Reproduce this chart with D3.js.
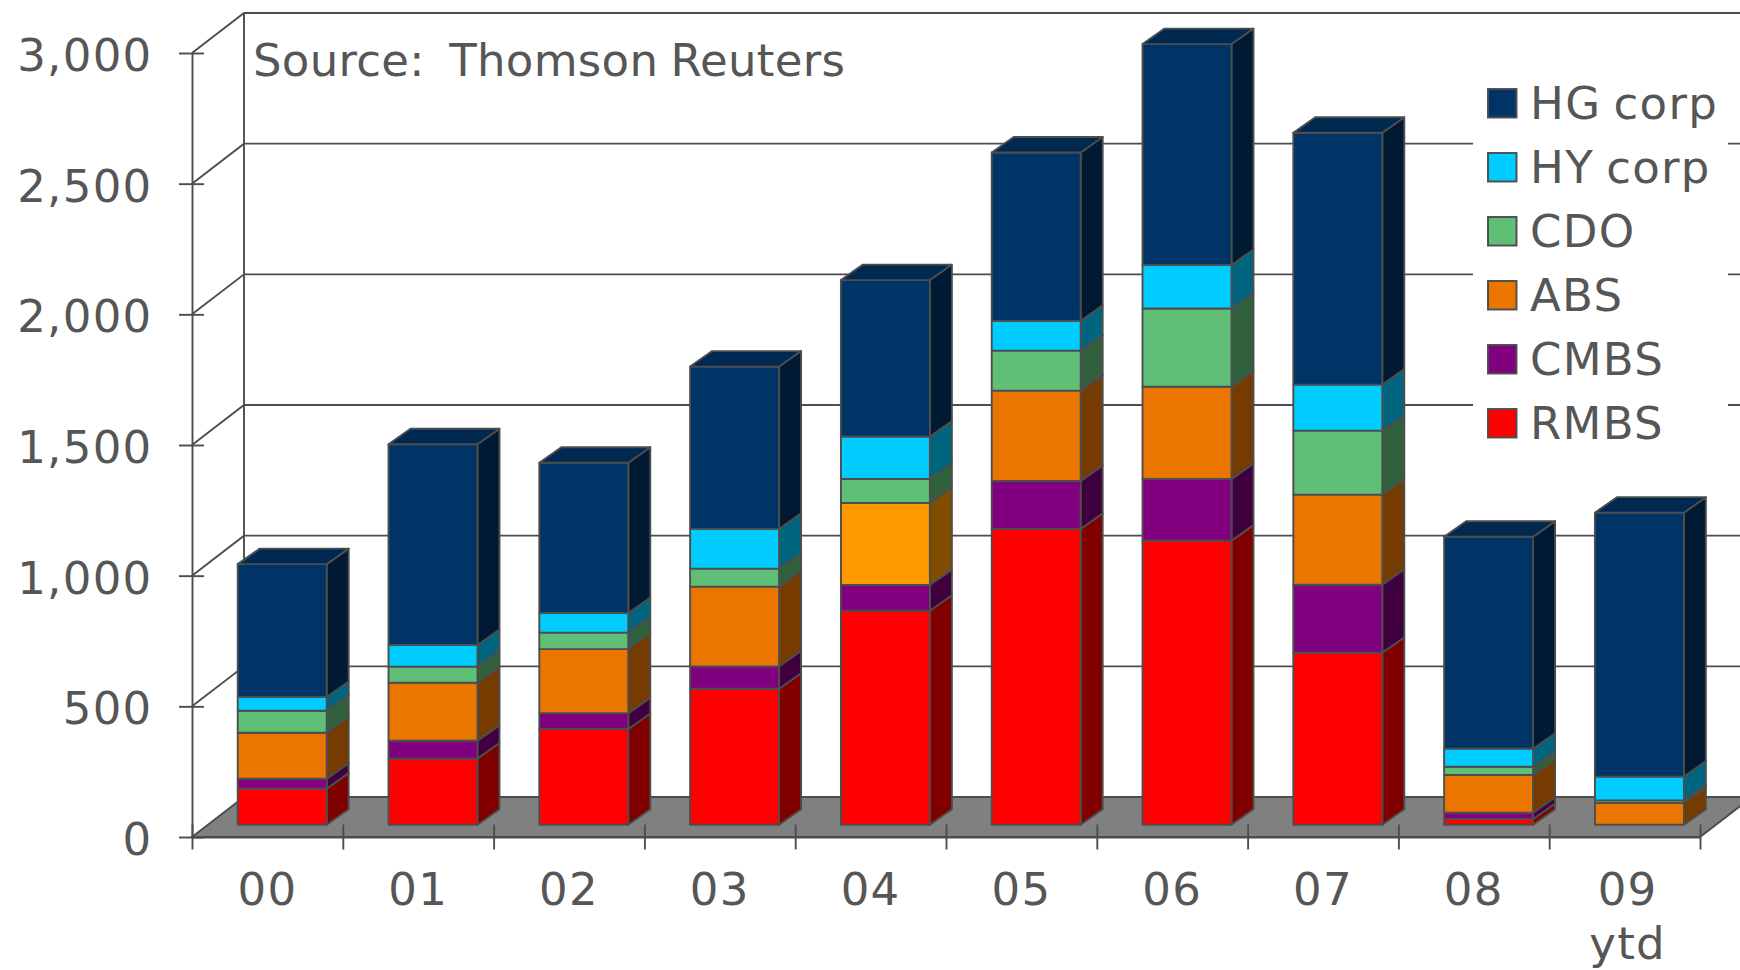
<!DOCTYPE html>
<html>
<head>
<meta charset="utf-8">
<script src="https://cdn.jsdelivr.net/npm/d3@7"></script>
<style>
  html, body { margin: 0; padding: 0; background: #fff; overflow: hidden; }
  text { font-family: "DejaVu Sans", sans-serif; fill: #565656; white-space: pre; letter-spacing: 1.3px; word-spacing: -3.4px; }
</style>
</head>
<body>
<div id="chart"></div>
<script>
var width = 1740;
var height = 970;

// issuance by year
const years = ["00", "01", "02", "03", "04", "05", "06", "07", "08", "09"];
const rmbs = [138, 253, 366, 520, 819, 1132, 1087, 658, 22, 0];
const cmbs = [38, 68, 61, 86, 98, 183, 236, 260, 24, 0];
const abs = [176, 222, 245, 305, 314, 346, 353, 345, 144, 83];
const cdo = [84, 62, 63, 69, 92, 153, 299, 245, 32, 10];
const hyCorp = [53, 83, 75, 152, 162, 114, 167, 176, 69, 91];
const hgCorp = [508, 768, 575, 621, 599, 644, 845, 964, 811, 1010];

const seriesNames = ["RMBS", "CMBS", "ABS", "CDO", "HY corp", "HG corp"];
const seriesValues = [rmbs, cmbs, abs, cdo, hyCorp, hgCorp];
const seriesColors = ["#ff0000", "#800080", "#ea7600", "#5fbf77", "#00ccff", "#003366"];
const yTicks = [0, 500, 1000, 1500, 2000, 2500, 3000];

const ink = "#4d4d4d";
const floorColor = "#808080";
const lineW = 1.9;

// 3d box: wall depth, and where the bars sit inside it
const wall = { dx: 52, dy: 40 };
const bar = { shiftX: 14.8, shiftY: 12.3, dx: 22, dy: 15.5 };

var x = d3.scaleBand().domain(years).range([192, 1700]);
var xEdge = d3.scaleLinear().domain([0, years.length]).range([192, 1700]);
var y = d3.scaleLinear().domain([0, 3000]).range([837, 53]);

var rows = years.map((yr, i) => {
  var row = { year: yr };
  seriesNames.forEach((s, j) => (row[s] = seriesValues[j][i]));
  return row;
});
var stacked = d3.stack().keys(seriesNames)(rows);

const svg = d3
  .select("#chart")
  .append("svg")
  .attr("width", width)
  .attr("height", height)
  .style("display", "block");

// floor
svg
  .append("path")
  .attr("fill", floorColor)
  .attr("stroke", ink)
  .attr("stroke-width", lineW)
  .attr(
    "d",
    d3.line()([
      [xEdge(0), y(0)],
      [xEdge(0) + wall.dx, y(0) - wall.dy],
      [xEdge(10) + wall.dx, y(0) - wall.dy],
      [xEdge(10), y(0)],
    ]) + "Z"
  );

// back wall grid + left wall diagonals
var grid = svg.append("g").attr("fill", "none").attr("stroke", ink).attr("stroke-width", lineW);
grid
  .selectAll("path")
  .data(yTicks.slice(1))
  .join("path")
  .attr("d", (d) =>
    d3.line()([
      [xEdge(0), y(d)],
      [xEdge(0) + wall.dx, y(d) - wall.dy],
      [width + 5, y(d) - wall.dy],
    ])
  );
grid
  .append("line")
  .attr("x1", xEdge(0) + wall.dx)
  .attr("x2", xEdge(0) + wall.dx)
  .attr("y1", y(3000) - wall.dy)
  .attr("y2", y(0) - wall.dy);

// legend sits on a white box that hides the grid lines
svg.append("rect").attr("x", 1473).attr("y", 70).attr("width", 255).attr("height", 380).attr("fill", "#fff");

// axes
var yAxis = svg
  .append("g")
  .attr("transform", `translate(${xEdge(0)},0)`)
  .call(d3.axisLeft(y).tickValues(yTicks).tickFormat(d3.format(",")).tickSizeOuter(0));
yAxis.selectAll(".tick line").attr("x1", 12).attr("x2", -13);
yAxis.selectAll(".tick text").remove();

var xAxis = svg
  .append("g")
  .attr("transform", `translate(0,${y(0)})`)
  .call(d3.axisBottom(xEdge).tickValues(d3.range(years.length + 1)).tickFormat("").tickSizeOuter(0));
xAxis.selectAll(".tick line").attr("y1", -12.5).attr("y2", 12.5);

svg.selectAll(".domain, .tick line").attr("stroke", ink).attr("stroke-width", lineW);

// bars: front, side and (on the last segment) top
var barW = x.bandwidth() * 0.59;
var barLeft = (yr) => x(yr) + x.bandwidth() / 2 + bar.shiftX - barW / 2;
var barY = (v) => y(v) - bar.shiftY;

var layers = svg
  .append("g")
  .attr("stroke", ink)
  .attr("stroke-width", lineW)
  .attr("stroke-linejoin", "round")
  .selectAll("g")
  .data(stacked)
  .join("g");

var segColor = (s, d) => {
  // the 04 ABS block is a lighter orange in the original
  if (s.key === "ABS" && d.data.year === "04") return "#ff9900";
  return seriesColors[s.index];
};

layers.each(function (s) {
  var g = d3.select(this);
  var segs = s.filter((d) => d[1] > d[0]);
  g.selectAll(".side")
    .data(segs)
    .join("path")
    .attr("class", "side")
    .attr("fill", (d) => {
      var c = d3.rgb(segColor(s, d));
      return d3.rgb(c.r * 0.5, c.g * 0.5, c.b * 0.5).formatHex();
    })
    .attr("d", (d) => {
      var r = barLeft(d.data.year) + barW;
      return (
        d3.line()([
          [r, barY(d[0])],
          [r + bar.dx, barY(d[0]) - bar.dy],
          [r + bar.dx, barY(d[1]) - bar.dy],
          [r, barY(d[1])],
        ]) + "Z"
      );
    });
  g.selectAll(".front")
    .data(segs)
    .join("rect")
    .attr("class", "front")
    .attr("x", (d) => barLeft(d.data.year))
    .attr("y", (d) => barY(d[1]))
    .attr("width", barW)
    .attr("height", (d) => barY(d[0]) - barY(d[1]))
    .attr("fill", (d) => segColor(s, d));
});

// top faces, only the highest series
svg
  .append("g")
  .attr("stroke", ink)
  .attr("stroke-width", lineW)
  .attr("stroke-linejoin", "round")
  .selectAll("path")
  .data(stacked[stacked.length - 1])
  .join("path")
  .attr("fill", "#002952")
  .attr("d", (d) => {
    var l = barLeft(d.data.year);
    var t = barY(d[1]);
    return (
      d3.line()([
        [l, t],
        [l + bar.dx, t - bar.dy],
        [l + barW + bar.dx, t - bar.dy],
        [l + barW, t],
      ]) + "Z"
    );
  });

// tick labels
const fontSize = 45;
svg
  .append("g")
  .attr("font-size", fontSize)
  .attr("text-anchor", "end")
  .selectAll("text")
  .data(yTicks)
  .join("text")
  .attr("x", 152.5)
  .attr("y", (d) => y(d) + 18)
  .text(d3.format(","));

svg
  .append("g")
  .attr("font-size", fontSize)
  .attr("text-anchor", "middle")
  .selectAll("text")
  .data(years)
  .join("text")
  .attr("x", (d) => x(d) + x.bandwidth() / 2 + (d === "09" ? 3 : 0))
  .attr("y", 905)
  .text((d) => d);

svg
  .append("text")
  .attr("font-size", fontSize)
  .attr("text-anchor", "middle")
  .attr("x", x("09") + x.bandwidth() / 2 + 3)
  .attr("y", 959)
  .text("ytd");

svg
  .append("text")
  .attr("font-size", fontSize)
  .attr("x", 253)
  .attr("y", 76)
  .style("letter-spacing", "0.3px")
  .style("word-spacing", "-2.4px")
  .text("Source:  Thomson Reuters");

// legend, top entry first
var legend = svg
  .append("g")
  .selectAll("g")
  .data(d3.reverse(seriesNames))
  .join("g")
  .attr("transform", (d, i) => `translate(1488,${89 + i * 64})`);

legend
  .append("rect")
  .attr("width", 28.5)
  .attr("height", 28.5)
  .attr("fill", (d) => seriesColors[seriesNames.indexOf(d)])
  .attr("stroke", ink)
  .attr("stroke-width", lineW);

legend.append("text").attr("font-size", fontSize).attr("x", 42).attr("y", 30).text((d) => d);
</script>
</body>
</html>
